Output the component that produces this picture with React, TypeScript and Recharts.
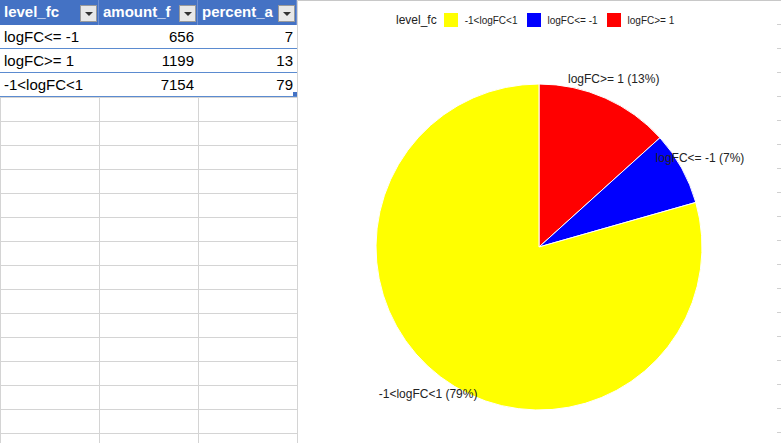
import React from 'react';
import { PieChart, Pie, Cell, Legend } from 'recharts';

// sheet columns / rows
const headers = ['level_fc', 'amount_f', 'percent_a'];
const levels = ['logFC<= -1', 'logFC>= 1', '-1<logFC<1'];
const amounts = [656, 1199, 7154];
const percents = [7, 13, 79];

// pie order (clockwise from 12 o'clock) and legend order
const pieOrder = ['logFC>= 1', 'logFC<= -1', '-1<logFC<1'];
const legendOrder = ['-1<logFC<1', 'logFC<= -1', 'logFC>= 1'];
const levelColors: Record<string, string> = {
  '-1<logFC<1': '#ffff00',
  'logFC<= -1': '#0000ff',
  'logFC>= 1': '#ff0000',
};

const RADIAN = Math.PI / 180;
const COL_W = [99, 99, 99];
const ROW_H = 24;
const HEAD_H = 25;

const Sheet: React.FC = () => {
  const gridRows = Math.ceil((443 - HEAD_H) / ROW_H) + 1;
  const cellFont = "'Liberation Sans', Arial, sans-serif";
  return (
    <div style={{ position: 'absolute', left: 0, top: 0, width: 298, height: 443, overflow: 'hidden' }}>
      {/* empty grid */}
      {Array.from({ length: gridRows }).map((_, i) => (
        <div
          key={'h' + i}
          style={{ position: 'absolute', left: 0, top: HEAD_H + ROW_H * (i + 3), width: 297, height: 1, background: '#d4d4d4' }}
        />
      ))}
      {[0, 99, 198, 297].map(x => (
        <div key={'v' + x} style={{ position: 'absolute', left: x, top: 0, width: 1, height: 443, background: '#d4d4d4' }} />
      ))}
      {/* header */}
      {headers.map((h, i) => {
        const left = COL_W.slice(0, i).reduce((a, b) => a + b, 0);
        return (
          <div
            key={h}
            style={{
              position: 'absolute',
              left,
              top: 0,
              width: COL_W[i],
              height: HEAD_H,
              background: '#4472c4',
              borderRight: '1px solid #6f8fd0',
              boxSizing: 'border-box',
              overflow: 'hidden',
            }}
          >
            <span
              style={{
                position: 'absolute',
                left: 4,
                top: 3,
                color: '#fff',
                fontWeight: 'bold',
                fontSize: 15,
                fontFamily: cellFont,
                whiteSpace: 'nowrap',
              }}
            >
              {h}
            </span>
            <div
              style={{
                position: 'absolute',
                right: 1,
                top: 5,
                width: 17,
                height: 17,
                background: '#e8e8e8',
                border: '1px solid #9a9a9a',
                boxSizing: 'border-box',
              }}
            >
              <div
                style={{
                  position: 'absolute',
                  left: 4,
                  top: 6,
                  width: 0,
                  height: 0,
                  borderLeft: '4px solid transparent',
                  borderRight: '4px solid transparent',
                  borderTop: '4px solid #333',
                }}
              />
            </div>
          </div>
        );
      })}
      {/* data rows */}
      {levels.map((lv, r) => {
        const top = HEAD_H + r * ROW_H;
        const vals = [lv, String(amounts[r]), String(percents[r])];
        return (
          <div
            key={lv}
            style={{
              position: 'absolute',
              left: 0,
              top,
              width: 297,
              height: ROW_H,
              background: '#fff',
              borderBottom: '1px solid #5b8bd0',
              boxSizing: 'border-box',
            }}
          >
            {vals.map((v, c) => {
              const left = COL_W.slice(0, c).reduce((a, b) => a + b, 0);
              return (
                <span
                  key={c}
                  style={{
                    position: 'absolute',
                    left: left + 4,
                    width: COL_W[c] - 8,
                    top: 3,
                    textAlign: c === 0 ? 'left' : 'right',
                    fontSize: 15,
                    fontFamily: cellFont,
                    color: '#000',
                    whiteSpace: 'nowrap',
                  }}
                >
                  {v}
                </span>
              );
            })}
          </div>
        );
      })}
      <div style={{ position: 'absolute', left: 293, top: 92, width: 4, height: 4, background: '#4472c4' }} />
    </div>
  );
};

const renderLabel = (props: any) => {
  const { cx, cy, midAngle, outerRadius, name } = props;
  const r = outerRadius + 21;
  const x = cx + r * Math.cos(-midAngle * RADIAN);
  const y = cy + r * Math.sin(-midAngle * RADIAN);
  const pct = percents[levels.indexOf(name)];
  return (
    <text
      x={x}
      y={y}
      textAnchor="middle"
      dominantBaseline="central"
      fontSize={12}
      fontFamily="'Liberation Sans', Arial, sans-serif"
      fill="#222"
    >
      {`${name} (${pct}%)`}
    </text>
  );
};

const renderLegend = () => (
  <div
    style={{
      display: 'flex',
      alignItems: 'center',
      fontFamily: "'Liberation Sans', Arial, sans-serif",
      color: '#222',
    }}
  >
    <span style={{ fontSize: 12, marginRight: 7 }}>level_fc</span>
    {legendOrder.map(k => (
      <React.Fragment key={k}>
        <span style={{ display: 'inline-block', width: 14, height: 14, background: levelColors[k], marginRight: 7 }} />
        <span style={{ fontSize: 10, marginRight: 9 }}>{k}</span>
      </React.Fragment>
    ))}
  </div>
);

export default function App() {
  const pieData = pieOrder.map(name => ({ name, value: amounts[levels.indexOf(name)] }));
  return (
    <div
      style={{
        position: 'fixed',
        left: 0,
        top: 0,
        width: 781,
        height: 443,
        background: '#fff',
        overflow: 'hidden',
      }}
    >
      <Sheet />
      <div style={{ position: 'absolute', left: 298, top: 0, width: 483, height: 443 }}>
        <div style={{ position: 'absolute', left: 0, top: 0, width: 483, height: 1, background: '#c8c8c8' }} />
        {Array.from({ length: 18 }).map((_, i) => (
          <div
            key={i}
            style={{ position: 'absolute', left: 479, top: 24 + i * 24, width: 4, height: 1, background: '#d0d0d0' }}
          />
        ))}
        <PieChart width={483} height={443} style={{ position: 'absolute', left: 0, top: 0 }}>
          <Legend
            verticalAlign="top"
            align="left"
            content={renderLegend}
            wrapperStyle={{ top: 13, left: 98, width: 'auto' }}
          />
          <Pie
            data={pieData}
            dataKey="value"
            nameKey="name"
            cx={236}
            cy={228}
            outerRadius={163}
            startAngle={90}
            endAngle={-270}
            stroke="#fff"
            strokeWidth={1}
            label={renderLabel}
            labelLine={false}
            isAnimationActive={false}
          >
            {pieData.map(d => (
              <Cell key={d.name} fill={levelColors[d.name]} />
            ))}
          </Pie>
        </PieChart>
      </div>
    </div>
  );
}
